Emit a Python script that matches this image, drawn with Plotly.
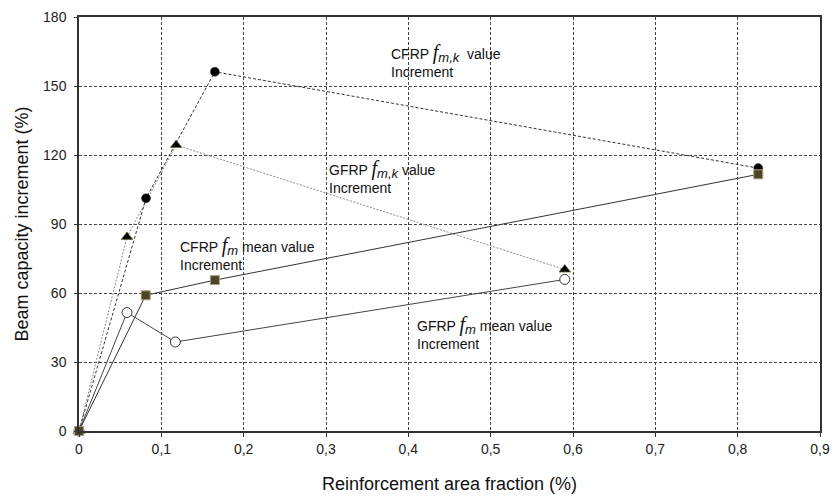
import plotly.graph_objects as go

# Data
cfrp_fmk_x = [0, 0.0814, 0.165, 0.825]
cfrp_fmk_y = [0, 101.2, 156.2, 114.3]

gfrp_fmk_x = [0, 0.0583, 0.118, 0.590]
gfrp_fmk_y = [0, 84.4, 124.3, 70.2]

cfrp_fm_x = [0, 0.081, 0.165, 0.825]
cfrp_fm_y = [0, 59.0, 65.6, 111.6]

gfrp_fm_x = [0, 0.0583, 0.117, 0.590]
gfrp_fm_y = [0, 51.5, 38.7, 65.9]

x_tickvals = [0, 0.1, 0.2, 0.3, 0.4, 0.5, 0.6, 0.7, 0.8, 0.9]
x_ticktext = ["0", "0,1", "0,2", "0,3", "0,4", "0,5", "0,6", "0,7", "0,8", "0,9"]
y_tickvals = [0, 30, 60, 90, 120, 150, 180]
y_ticktext = ["0", "30", "60", "90", "120", "150", "180"]

FONT = "Liberation Sans, Arial, sans-serif"

fig = go.Figure()

fig.add_trace(go.Scatter(
    x=gfrp_fmk_x, y=gfrp_fmk_y, mode="lines+markers",
    line=dict(color="#8a8a8a", width=1, dash="2px,1.5px"),
    marker=dict(symbol="triangle-up", size=10, color="#000000",
                line=dict(color="#6b6b40", width=0.8)),
    cliponaxis=False, showlegend=False))

fig.add_trace(go.Scatter(
    x=cfrp_fmk_x, y=cfrp_fmk_y, mode="lines+markers",
    line=dict(color="#333333", width=1, dash="3px,2px"),
    marker=dict(symbol="circle", size=9, color="#000000",
                line=dict(color="#333333", width=0.5)),
    cliponaxis=False, showlegend=False))

fig.add_trace(go.Scatter(
    x=gfrp_fm_x, y=gfrp_fm_y, mode="lines+markers",
    line=dict(color="#444444", width=1),
    marker=dict(symbol="circle", size=10, color="#ffffff",
                line=dict(color="#333333", width=1)),
    cliponaxis=False, showlegend=False))

fig.add_trace(go.Scatter(
    x=cfrp_fm_x, y=cfrp_fm_y, mode="lines+markers",
    line=dict(color="#333333", width=1),
    marker=dict(symbol="square", size=9, color="#4b4527",
                line=dict(color="#a8a27a", width=1)),
    cliponaxis=False, showlegend=False))

def lab(series, sub, kind):
    return (series + ' <span style="font-family:Liberation Serif, Times New Roman, serif; font-size:20px"><i>f</i></span>'
            '<sub><span style="font-size:13px"><i>' + sub + '</i></span></sub> ' + kind + '<br>Increment')

annots = [
    (0.3765, 161, lab("CFRP", "m,k", " value")),
    (0.301, 110.5, lab("GFRP", "m,k", "value")),
    (0.120, 77.0, lab("CFRP", "m", "mean value")),
    (0.408, 43.0, lab("GFRP", "m", "mean value")),
]
for ax_, ay_, t in annots:
    fig.add_annotation(x=ax_, y=ay_, xref="x", yref="y", text=t, showarrow=False,
                       xanchor="left", yanchor="middle", align="left",
                       font=dict(family=FONT, size=14, color="#111111"))

fig.update_xaxes(
    range=[0, 0.9], tickvals=x_tickvals, ticktext=x_ticktext,
    showline=True, mirror=True, linecolor="#333333", linewidth=1.5,
    ticks="outside", ticklen=4, tickcolor="#333333",
    showgrid=True, gridcolor="#444444", gridwidth=1, griddash="3px,2px",
    zeroline=False, automargin=False,
    tickfont=dict(family=FONT, size=14, color="#222222"),
    title=dict(text="Reinforcement area fraction (%)", standoff=22,
               font=dict(family=FONT, size=18, color="#111111")))
fig.update_yaxes(
    range=[0, 180], tickvals=y_tickvals, ticktext=y_ticktext,
    showline=True, mirror=True, linecolor="#333333", linewidth=1.5,
    ticks="outside", ticklen=3, tickcolor="#333333", ticklabelstandoff=5,
    showgrid=True, gridcolor="#444444", gridwidth=1, griddash="3px,2px",
    zeroline=False, automargin=False,
    tickfont=dict(family=FONT, size=14, color="#222222"),
    title=dict(text="Beam capacity increment (%)", standoff=10,
               font=dict(family=FONT, size=18, color="#111111")))

fig.update_layout(
    width=834, height=501,
    margin=dict(l=79, r=14, t=17, b=70),
    paper_bgcolor="white", plot_bgcolor="white",
    font=dict(family=FONT),
)

fig.write_html("out.html")
